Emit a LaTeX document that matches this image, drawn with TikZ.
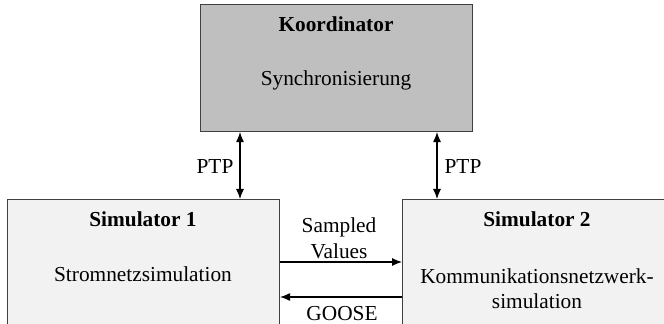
\documentclass[tikz,border=0pt]{standalone}
\usepackage{fontspec}
\setmainfont{Liberation Serif}
\usetikzlibrary{positioning,arrows.meta}

\definecolor{koordgray}{HTML}{BFBFBF}
\definecolor{simgray}{HTML}{F2F2F2}
\definecolor{framegray}{HTML}{404040}

\tikzset{
  box/.style={draw=framegray, line width=0.8pt, inner sep=0pt, anchor=north west},
  koordbox/.style={box, fill=koordgray, minimum width=204pt, minimum height=95.25pt},
  simbox/.style={box, fill=simgray, minimum width=204pt, minimum height=112.5pt},
  txt/.style={anchor=base, inner sep=0pt},
  head/.style={txt, font=\fontsize{16}{18.75}\selectfont\bfseries},
  link/.style={line width=0.8pt}
}

\begin{document}
\begin{tikzpicture}[x=0.75pt, y=-0.75pt, >={Latex[length=7.5pt,width=6pt]},
  font=\fontsize{16}{18.75}\selectfont]

\useasboundingbox (0,0) rectangle (664,324);
\clip (0,0) rectangle (664,324);

% the three boxes
\node [koordbox] (koord) at (200,4) {};
\node [simbox] (sim1) at (7,199) {};
\node [simbox, minimum width=202.5pt] (sim2) at (402,199) {};

% texts in the boxes
\node [head] (koordhead) at (336,32) {Koordinator};
\node [txt] (koordtxt) at (336,86) {Synchronisierung};

\node [head] (sim1head) at (143,227) {Simulator 1};
\node [txt] (sim1txt) at (143,281) {Stromnetzsimulation};

\node [head] (sim2head) at (537,227) {Simulator 2};
\node [txt] (sim2txta) at (537,283) {Kommunikationsnetzwerk-};
\node [txt] (sim2txtb) at (537,308) {simulation};

% PTP links to the coordinator
\coordinate (ptpl) at (240,0);
\coordinate (ptpr) at (437,0);
\draw [link,<->] (koord.south -| ptpl) -- (sim1.north -| ptpl);
\draw [link,<->] (koord.south -| ptpr) -- (sim2.north -| ptpr);
\node [txt] (ptpltxt) at (215,174) {PTP};
\node [txt] (ptprtxt) at (463,174) {PTP};

% data between the simulators
\coordinate (sv) at (0,262);
\coordinate (goose) at (0,297);
\draw [link,->] (sim1.east |- sv) -- (sim2.west |- sv);
\draw [link,->] (sim2.west |- goose) -- (sim1.east |- goose);
\node [txt] (svtxta) at (339,233) {Sampled};
\node [txt] (svtxtb) at (339,258) {Values};
\node [txt] (goosetxt) at (342,320.5) {GOOSE};

\end{tikzpicture}
\end{document}
